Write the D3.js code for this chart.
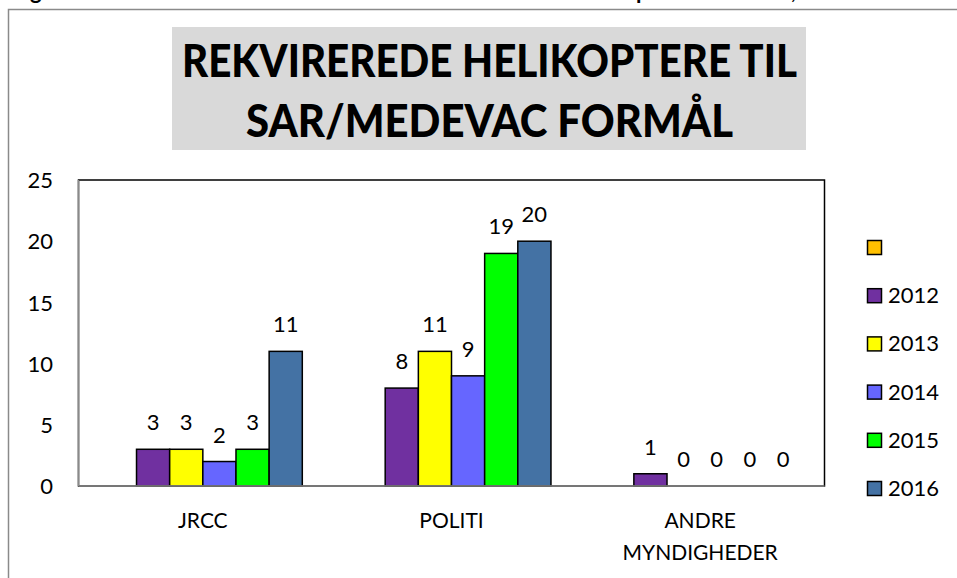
<!DOCTYPE html>
<html>
<head>
<meta charset="utf-8">
<script src="https://cdn.jsdelivr.net/npm/d3@7"></script>
<style>
  html, body { margin: 0; padding: 0; background: #fff; }
  svg { display: block; }
  text { font-family: Lato, "Open Sans", sans-serif; }
</style>
</head>
<body>
<svg id="chart" width="957" height="578"></svg>
<script>
// ---- data ----
const titleLines = ["REKVIREREDE HELIKOPTERE TIL", "SAR/MEDEVAC FORMÅL"];
const categories = ["JRCC", "POLITI", "ANDRE\nMYNDIGHEDER"];
const seriesNames = ["", "2012", "2013", "2014", "2015", "2016"];
const seriesColors = ["#ffc000", "#7030a0", "#ffff00", "#6666ff", "#00ff00", "#4472a4"];
const valuesBlank = [null, null, null];
const values2012 = [3, 8, 1];
const values2013 = [3, 11, 0];
const values2014 = [2, 9, 0];
const values2015 = [3, 19, 0];
const values2016 = [11, 20, 0];
const yTicks = [0, 5, 10, 15, 20, 25];
const topFragments = [{t: "g", x: 30}, {t: "p", x: 636}, {t: ",", x: 791}];

const seriesValues = [valuesBlank, values2012, values2013, values2014, values2015, values2016];

// ---- layout ----
const svg = d3.select("#chart");
const plot = {left: 78.5, right: 824.5, top: 180, bottom: 486};

// text fragments of the page above, cut off at the top edge (as in the reference)
svg.selectAll("text.frag").data(topFragments).enter().append("text")
  .attr("class", "frag")
  .attr("x", d => d.x).attr("y", -1)
  .attr("font-size", 22).attr("font-weight", 700)
  .text(d => d.t);

// outer chart frame
svg.append("path")
  .attr("d", "M8.5,578 V9.5 H957")
  .attr("fill", "none").attr("stroke", "#8a8a8a").attr("stroke-width", 1.5);

// title
svg.append("rect")
  .attr("x", 172).attr("y", 27).attr("width", 634).attr("height", 123)
  .attr("fill", "#d9d9d9");
const titleSpec = [{y: 77, len: 615}, {y: 137, len: 487}];
svg.selectAll("text.title").data(titleLines).enter().append("text")
  .attr("class", "title")
  .attr("x", 489.5).attr("y", (d, i) => titleSpec[i].y)
  .attr("text-anchor", "middle")
  .attr("font-size", 46).attr("font-weight", 900)
  .attr("textLength", (d, i) => titleSpec[i].len)
  .attr("lengthAdjust", "spacingAndGlyphs")
  .attr("fill", "#000")
  .text(d => d);

// scales
const x0 = d3.scaleBand().domain(categories).range([plot.left, plot.right])
  .paddingInner(0.2).paddingOuter(0.1);
const x1 = d3.scaleBand().domain(seriesNames.map((d, i) => i)).range([0, x0.bandwidth()]).padding(0);
const y = d3.scaleLinear().domain([0, 25]).range([plot.bottom, plot.top]);

// plot area border
svg.append("rect")
  .attr("x", plot.left).attr("y", plot.top)
  .attr("width", plot.right - plot.left).attr("height", plot.bottom - plot.top)
  .attr("fill", "#fff").attr("stroke", "#000").attr("stroke-width", 1.5);

// bars
const barData = [];
seriesValues.forEach((vals, si) => {
  vals.forEach((v, ci) => {
    if (v !== null) barData.push({si, ci, v});
  });
});
svg.selectAll("rect.bar").data(barData.filter(d => d.v > 0)).enter().append("rect")
  .attr("class", "bar")
  .attr("x", d => x0(categories[d.ci]) + x1(d.si))
  .attr("y", d => y(d.v))
  .attr("width", x1.bandwidth())
  .attr("height", d => y(0) - y(d.v))
  .attr("fill", d => seriesColors[d.si])
  .attr("stroke", "#000").attr("stroke-width", 1.5);

// data labels
svg.selectAll("text.lbl").data(barData).enter().append("text")
  .attr("class", "lbl")
  .attr("x", d => x0(categories[d.ci]) + x1(d.si) + x1.bandwidth() / 2)
  .attr("y", d => y(d.v) - 19)
  .attr("text-anchor", "middle")
  .attr("font-size", 22)
  .attr("fill", "#000")
  .text(d => d.v);

// y axis
const yAxis = d3.axisLeft(y).tickValues(yTicks).tickSize(0).tickPadding(0);
const gy = svg.append("g").attr("transform", "translate(53,0)").call(yAxis);
gy.select(".domain").remove();
gy.selectAll("text").attr("font-size", 22).attr("fill", "#000")
  .attr("font-family", "Lato, sans-serif").attr("dy", "0.35em");

// axis lines (gray)
svg.append("line").attr("x1", plot.left).attr("x2", plot.left)
  .attr("y1", plot.top).attr("y2", plot.bottom)
  .attr("stroke", "#8a8a8a").attr("stroke-width", 1.5);
svg.append("line").attr("x1", plot.left).attr("x2", plot.right)
  .attr("y1", plot.bottom).attr("y2", plot.bottom)
  .attr("stroke", "#8a8a8a").attr("stroke-width", 1.5);

// category labels
const cat = svg.selectAll("text.cat").data(categories).enter().append("text")
  .attr("class", "cat")
  .attr("x", d => x0(d) + x0.bandwidth() / 2)
  .attr("y", 528)
  .attr("text-anchor", "middle")
  .attr("font-size", 21)
  .attr("fill", "#000");
cat.each(function(d) {
  const lines = d.split("\n");
  const t = d3.select(this);
  lines.forEach((l, i) => {
    t.append("tspan").attr("x", x0(d) + x0.bandwidth() / 2)
      .attr("dy", i === 0 ? 0 : 32).text(l);
  });
});

// legend
const leg = svg.selectAll("g.leg").data(seriesNames).enter().append("g")
  .attr("class", "leg")
  .attr("transform", (d, i) => `translate(867,${247 + i * 48.2})`);
leg.append("rect")
  .attr("x", 0.5).attr("y", -6.5).attr("width", 14).attr("height", 14)
  .attr("fill", (d, i) => seriesColors[i])
  .attr("stroke", "#000").attr("stroke-width", 1.5);
leg.append("text")
  .attr("x", 21).attr("y", 8)
  .attr("font-size", 22).attr("fill", "#000")
  .text(d => d);
</script>
</body>
</html>
